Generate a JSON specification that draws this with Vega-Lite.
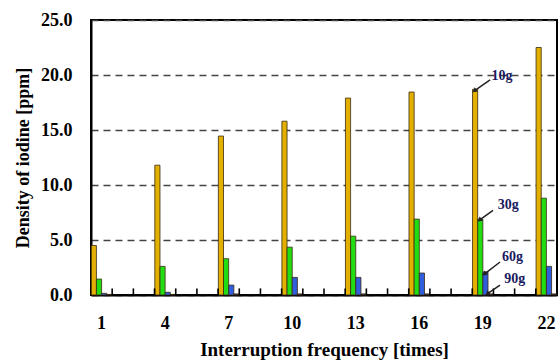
{
  "$schema": "https://vega.github.io/schema/vega-lite/v6.json",
  "width": 466,
  "height": 275,
  "autosize": "none",
  "padding": {"left": 91, "top": 20, "right": 1, "bottom": 68},
  "background": "white",
  "config": {
    "font": "Liberation Serif",
    "view": {"stroke": "black", "strokeWidth": 2}
  },
  "layer": [
    {
      "data": {
        "values": [
          {"freq": 1, "series": "10g", "value": 4.5},
          {"freq": 1, "series": "30g", "value": 1.45},
          {"freq": 1, "series": "60g", "value": 0.15},
          {"freq": 1, "series": "90g", "value": 0.05},
          {"freq": 4, "series": "10g", "value": 11.8},
          {"freq": 4, "series": "30g", "value": 2.6},
          {"freq": 4, "series": "60g", "value": 0.25},
          {"freq": 4, "series": "90g", "value": 0.05},
          {"freq": 7, "series": "10g", "value": 14.45},
          {"freq": 7, "series": "30g", "value": 3.3},
          {"freq": 7, "series": "60g", "value": 0.9},
          {"freq": 7, "series": "90g", "value": 0.1},
          {"freq": 10, "series": "10g", "value": 15.8},
          {"freq": 10, "series": "30g", "value": 4.35},
          {"freq": 10, "series": "60g", "value": 1.6},
          {"freq": 10, "series": "90g", "value": 0.1},
          {"freq": 13, "series": "10g", "value": 17.9},
          {"freq": 13, "series": "30g", "value": 5.35},
          {"freq": 13, "series": "60g", "value": 1.6},
          {"freq": 13, "series": "90g", "value": 0.1},
          {"freq": 16, "series": "10g", "value": 18.45},
          {"freq": 16, "series": "30g", "value": 6.9},
          {"freq": 16, "series": "60g", "value": 2.0},
          {"freq": 16, "series": "90g", "value": 0.1},
          {"freq": 19, "series": "10g", "value": 18.7},
          {"freq": 19, "series": "30g", "value": 6.9},
          {"freq": 19, "series": "60g", "value": 2.1},
          {"freq": 19, "series": "90g", "value": 0.1},
          {"freq": 22, "series": "10g", "value": 22.5},
          {"freq": 22, "series": "30g", "value": 8.8},
          {"freq": 22, "series": "60g", "value": 2.6},
          {"freq": 22, "series": "90g", "value": 0.1}
        ]
      },
      "mark": {"type": "bar", "stroke": "#3a2a10", "strokeWidth": 0.8},
      "encoding": {
        "x": {
          "field": "freq",
          "type": "ordinal",
          "scale": {"domain": [1,2,3,4,5,6,7,8,9,10,11,12,13,14,15,16,17,18,19,20,21,22], "paddingInner": 0, "paddingOuter": 0},
          "axis": {
            "title": "Interruption frequency [times]",
            "titleFont": "Liberation Serif",
            "titleFontSize": 19,
            "titleFontWeight": "bold",
            "titleColor": "black",
            "titlePadding": 8,
            "labelAngle": 0,
            "labelFont": "Liberation Serif",
            "labelFontSize": 18,
            "labelFontWeight": "bold",
            "labelColor": "black",
            "labelExpr": "(datum.value - 1) % 3 == 0 ? datum.label : ''",
            "labelPadding": 19,
            "domainColor": "black",
            "domainWidth": 2,
            "ticks": false,
            "grid": false
          }
        },
        "xOffset": {
          "field": "series",
          "scale": {"domain": ["10g", "30g", "60g", "90g"], "paddingInner": 0, "paddingOuter": 0.05}
        },
        "y": {
          "field": "value",
          "type": "quantitative",
          "scale": {"domain": [0, 25], "nice": false},
          "axis": {
            "title": "Density of iodine [ppm]",
            "titleFont": "Liberation Serif",
            "titleFontSize": 18,
            "titleFontWeight": "bold",
            "titleColor": "black",
            "titlePadding": 8,
            "values": [0, 5, 10, 15, 20, 25],
            "format": ".1f",
            "labelFont": "Liberation Serif",
            "labelFontSize": 18,
            "labelFontWeight": "bold",
            "labelColor": "black",
            "labelPadding": 19,
            "ticks": false,
            "domainColor": "black",
            "domainWidth": 2,
            "grid": true,
            "gridColor": "#444",
            "gridWidth": 1.6,
            "gridDash": [7, 5]
          }
        },
        "color": {
          "field": "series",
          "scale": {"domain": ["10g", "30g", "60g", "90g"], "range": ["#e4b000", "#22dd11", "#2f5fdd", "#333366"]},
          "legend": null
        }
      }
    },
    {
      "data": {
        "values": [
          {"tick": 2}, {"tick": 3}, {"tick": 4}, {"tick": 5}, {"tick": 6}, {"tick": 7},
          {"tick": 8}, {"tick": 9}, {"tick": 10}, {"tick": 11}, {"tick": 12}, {"tick": 13},
          {"tick": 14}, {"tick": 15}, {"tick": 16}, {"tick": 17}, {"tick": 18}, {"tick": 19},
          {"tick": 20}, {"tick": 21}, {"tick": 22}
        ]
      },
      "mark": {"type": "rule", "color": "black", "strokeWidth": 1.6},
      "encoding": {
        "x": {"field": "tick", "type": "quantitative", "scale": {"domain": [1, 23], "nice": false, "zero": false}, "axis": null},
        "y": {"datum": 0, "type": "quantitative"},
        "y2": {"datum": 0.6}
      }
    },
    {
      "data": {
        "values": [
          {"label": "10g", "tx": 19.4, "ty": 19.9, "ax": 18.84, "ay": 19.55, "bx": 18.13, "by": 18.6},
          {"label": "30g", "tx": 19.7, "ty": 8.2, "ax": 18.98, "ay": 7.7, "bx": 18.37, "by": 6.85},
          {"label": "60g", "tx": 19.9, "ty": 3.45, "ax": 19.31, "ay": 3.0, "bx": 18.6, "by": 1.95},
          {"label": "90g", "tx": 20.0, "ty": 1.45, "ax": 19.31, "ay": 0.9, "bx": 18.74, "by": 0.15}
        ]
      },
      "layer": [
        {
          "mark": {"type": "rule", "color": "#222", "strokeWidth": 1.5},
          "encoding": {
            "x": {"field": "ax", "type": "quantitative", "scale": {"domain": [0, 22], "nice": false, "zero": false}, "axis": null},
            "x2": {"field": "bx"},
            "y": {"field": "ay", "type": "quantitative"},
            "y2": {"field": "by"}
          }
        },
        {
          "mark": {"type": "point", "shape": "triangle", "filled": true, "color": "#222", "size": 30, "angle": 232, "opacity": 1},
          "encoding": {
            "x": {"field": "bx", "type": "quantitative", "scale": {"domain": [0, 22], "nice": false, "zero": false}, "axis": null},
            "y": {"field": "by", "type": "quantitative"}
          }
        },
        {
          "mark": {"type": "text", "font": "Liberation Serif", "fontSize": 14, "fontWeight": "bold", "color": "#1a1a5e"},
          "encoding": {
            "x": {"field": "tx", "type": "quantitative", "scale": {"domain": [0, 22], "nice": false, "zero": false}, "axis": null},
            "y": {"field": "ty", "type": "quantitative"},
            "text": {"field": "label"}
          }
        }
      ]
    }
  ],
  "resolve": {"scale": {"x": "independent"}}
}
